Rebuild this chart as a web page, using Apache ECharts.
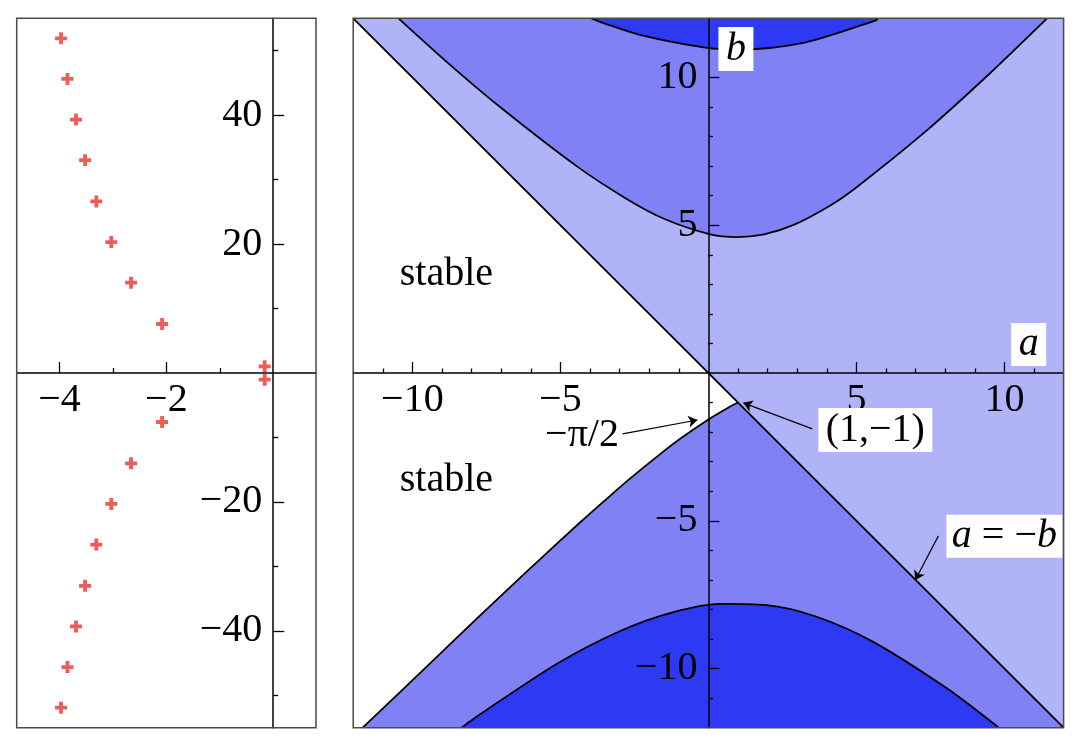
<!DOCTYPE html>
<html><head><meta charset="utf-8">
<script src="https://cdn.jsdelivr.net/npm/echarts@6/dist/echarts.min.js"></script>
<style>html,body{margin:0;padding:0;background:#fff;} #c{width:1080px;height:746px;}</style>
</head><body><div id="c"></div>
<script>
// ---- Left panel: characteristic roots (Re, Im) ----
const rootRe = [-3.97,-3.85,-3.69,-3.52,-3.31,-3.03,-2.66,-2.08,-0.16,-0.16,-2.08,-2.66,-3.03,-3.31,-3.52,-3.69,-3.85,-3.97];
const rootIm = [51.9,45.6,39.3,33.0,26.6,20.3,14.0,7.6,1.03,-1.03,-7.6,-14.0,-20.3,-26.6,-33.0,-39.3,-45.6,-51.9];

// ---- Right panel: boundary curves, points [a, b] ----
const diagonalLine = [[-12, 12], [1, -1], [12, -12]];          // a = -b
const boundary1 = [[-11.68,-12.0],[-9.50,-9.92],[-7.88,-8.36],[-6.66,-7.21],[-5.71,-6.32],[-4.32,-5.04],[-3.35,-4.18],[-2.62,-3.55],[-1.60,-2.72],[-0.92,-2.20],[0,-1.57],[0.64,-1.19],[1,-1]];
const boundary2 = [[-10.47,12],[-8.64,10.35],[-6.88,8.87],[-4.44,6.99],[-2.76,5.89],[-1.48,5.21],[0,4.71],[0.97,4.60],[1.88,4.69],[2.88,5.01],[4.12,5.67],[4.91,6.21],[7.30,8.14],[9.34,9.98],[11.44,12]];
const boundary3 = [[-8.34,-12],[-7.95,-11.71],[-5.10,-9.83],[-2.96,-8.72],[-1.18,-8.09],[0.42,-7.81],[1.97,-7.85],[3.61,-8.23],[5.52,-9.07],[8.03,-10.65],[9.73,-11.93],[9.80,-12]];
const boundary4 = [[-3.95,12],[-3.54,11.84],[-2.32,11.44],[-0.05,11.0],[1.05,10.95],[3.25,11.18],[5.68,11.94],[5.72,12]];

// ---- Tick values ----
const leftXLabels = [-4, -2];
const leftXMinor = [-3, -1];
const leftYLabels = [-40, -20, 20, 40];
const leftYMinor = [-50, -30, -10, 10, 30, 50];
const rightLabels = [-10, -5, 5, 10];
const rightMinor = [-11,-9,-8,-7,-6,-4,-3,-2,-1,1,2,3,4,6,7,8,9,11];

const SERIF = "'Liberation Serif','Times New Roman',serif";
const LIGHT = '#B0B3F8', MED = '#7F81F5', DARK = '#2E39F3', RED = '#E8352A';
const L = {left: 16.7, top: 18.3, width: 299.3, height: 709.4};
const R = {left: 353.2, top: 18.3, width: 710.4, height: 709.4};
const LX = [-4.8, 0.8], LY = [-55, 55], RX = [-12, 12], RY = [-12, 12];
// offsets that put each axis line at the other axis' zero
const zeroOff = (ext, size) => -size * (0 - ext[0]) / (ext[1] - ext[0]);
const minus = v => String(v).replace('-', '\u2212');
const FS = 40;
const labelStyle = {fontSize: FS, fontFamily: SERIF, color: '#000'};

function xAx(grid, ext, off, values, len, withLine, labels) {
  return {
    gridIndex: grid, type: 'value', min: ext[0], max: ext[1], position: 'bottom', offset: off, z: 3,
    axisLine: {show: withLine, onZero: false, lineStyle: {color: '#000', width: 1.5}},
    axisTick: {show: true, inside: true, length: len, customValues: values, lineStyle: {color: '#000', width: 1.3}},
    axisLabel: labels ? Object.assign({show: true, customValues: labels, formatter: minus, margin: 7}, labelStyle) : {show: false},
    splitLine: {show: false}
  };
}
function yAx(grid, ext, off, values, len, withLine, labels) {
  return {
    gridIndex: grid, type: 'value', min: ext[0], max: ext[1], position: 'left', offset: off, z: 3,
    axisLine: {show: withLine, onZero: false, lineStyle: {color: '#000', width: 1.5}},
    axisTick: {show: true, inside: true, length: len, customValues: values, lineStyle: {color: '#000', width: 1.3}},
    axisLabel: labels ? Object.assign({show: true, customValues: labels, formatter: minus, margin: 11}, labelStyle) : {show: false},
    splitLine: {show: false}
  };
}

const plusPath = 'path://M-1.9,-6 L1.9,-6 L1.9,-1.9 L6,-1.9 L6,1.9 L1.9,1.9 L1.9,6 L-1.9,6 L-1.9,1.9 L-6,1.9 L-6,-1.9 L-1.9,-1.9 Z';
const blackLine = {color: '#000', width: 1.8};
function areaSeries(data, color, origin, stroke, smooth) {
  return {
    type: 'line', xAxisIndex: 2, yAxisIndex: 2, data: data, symbol: 'none',
    smooth: smooth ? 0.3 : false,
    lineStyle: stroke ? blackLine : {width: 0, opacity: 0},
    areaStyle: {color: color, opacity: 1, origin: origin},
    silent: true, clip: true
  };
}
const transparent = {color: 'rgba(255,255,255,0)'};
const italic = {i: {fontStyle: 'italic', fontFamily: SERIF, fontSize: FS, color: '#000'}};

const lyOff = zeroOff(LX, L.width), lxOff = zeroOff(LY, L.height);
const ryOff = zeroOff(RX, R.width), rxOff = zeroOff(RY, R.height);

const option = {
  animation: false,
  backgroundColor: '#fff',
  grid: [
    Object.assign({show: true, backgroundColor: '#fff', borderWidth: 0, outerBoundsMode: 'none', containLabel: false}, L),
    Object.assign({show: true, backgroundColor: LIGHT, borderWidth: 0, outerBoundsMode: 'none', containLabel: false}, R)
  ],
  xAxis: [
    xAx(0, LX, lxOff, leftXLabels, 11, true, leftXLabels),
    xAx(0, LX, lxOff, leftXMinor, 5, false, null),
    xAx(1, RX, rxOff, rightLabels, 11, true, rightLabels),
    xAx(1, RX, rxOff, rightMinor, 4.5, false, null)
  ],
  yAxis: [
    yAx(0, LY, lyOff, leftYLabels, 11, true, leftYLabels),
    yAx(0, LY, lyOff, leftYMinor, 5, false, null),
    yAx(1, RY, ryOff, rightLabels, 11, true, rightLabels),
    yAx(1, RY, ryOff, rightMinor, 4.5, false, null)
  ],
  series: [
    {
      type: 'scatter', xAxisIndex: 0, yAxisIndex: 0, z: 4,
      data: rootRe.map((r, i) => [r, rootIm[i]]),
      symbol: plusPath, symbolSize: 12, itemStyle: {color: RED}
    },
    areaSeries(diagonalLine.slice(0, 2), '#fff', 'start', false, false),
    areaSeries(boundary1, MED, 'start', true, true),
    areaSeries(diagonalLine.slice(1, 3), MED, 'start', false, false),
    areaSeries(boundary3, DARK, 'start', true, true),
    areaSeries(boundary2, MED, 'end', true, true),
    areaSeries(boundary4, DARK, 'end', true, true),
    {
      type: 'line', xAxisIndex: 2, yAxisIndex: 2, data: [diagonalLine[0], diagonalLine[2]],
      symbol: 'none', lineStyle: blackLine, silent: true,
      markLine: {
        silent: true, z: 5, symbol: ['none', 'arrow'], symbolSize: 9,
        label: {show: false}, lineStyle: {color: '#000', width: 1.2, type: 'solid'},
        data: [
          [{coord: [-2.90, -2.06]}, {coord: [-0.37, -1.59]}],
          [{coord: [3.51, -1.89]}, {coord: [1.18, -1.01]}],
          [{coord: [7.77, -5.51]}, {coord: [6.99, -7.0]}]
        ]
      },
      markPoint: {
        silent: true, z: 5, symbol: 'rect',
        itemStyle: {color: '#fff'},
        label: Object.assign({show: true, position: 'inside'}, labelStyle),
        data: [
          {name: 'stable1', coord: [-8.85, 3.33], symbolSize: [96, 30], itemStyle: transparent, label: {formatter: 'stable'}},
          {name: 'stable2', coord: [-8.85, -3.64], symbolSize: [96, 30], itemStyle: transparent, label: {formatter: 'stable'}},
          {name: 'pi', coord: [-4.27, -2.13], symbolSize: [74, 26], itemStyle: transparent, label: {formatter: '\u2212\u03c0/2'}},
          {name: 'b', coord: [0.93, 10.96], symbolSize: [35, 44], label: {formatter: '{i|b}', rich: italic}},
          {name: 'a', coord: [10.82, 0.96], symbolSize: [35, 43], label: {formatter: '{i|a}', rich: italic}},
          {name: 'pt', coord: [5.64, -1.93], symbolSize: [114, 44], label: {formatter: '(1,\u22121)'}},
          {name: 'eq', coord: [10.0, -5.52], symbolSize: [116, 43], label: {formatter: '{i|a} = \u2212{i|b}', rich: italic}}
        ]
      }
    }
  ],
  graphic: [
    {type: 'rect', z: 10, silent: true, shape: {x: L.left, y: L.top, width: L.width, height: L.height}, style: {fill: 'none', stroke: '#4a4a4a', lineWidth: 1.5}},
    {type: 'rect', z: 10, silent: true, shape: {x: R.left, y: R.top, width: R.width, height: R.height}, style: {fill: 'none', stroke: '#4a4a4a', lineWidth: 1.5}}
  ]
};
const chart = echarts.init(document.getElementById('c'), null, {renderer: 'canvas'});
chart.setOption(option);
</script>
</body></html>
